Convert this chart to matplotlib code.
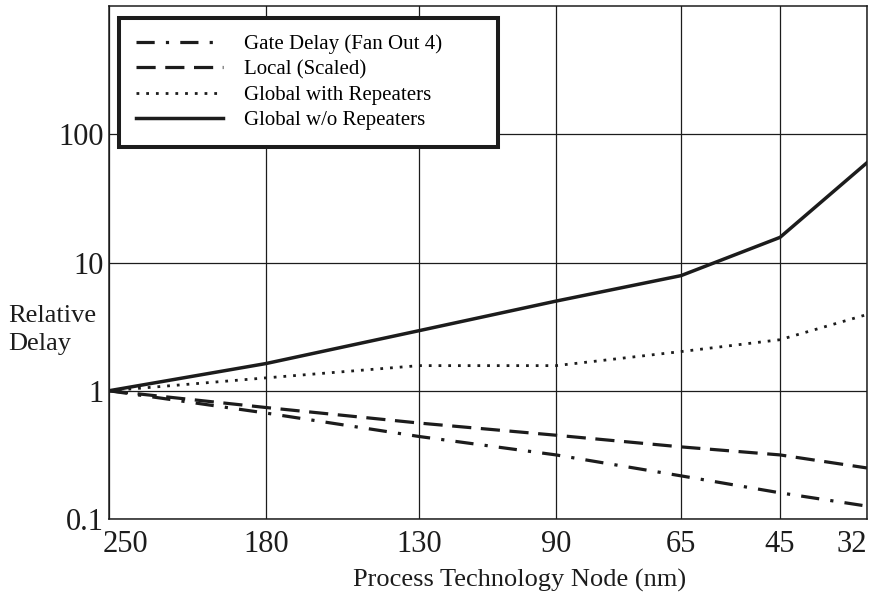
import matplotlib.pyplot as plt
import matplotlib.transforms as mtransforms

plt.rcParams['font.family'] = ['Liberation Serif', 'DejaVu Serif']

# process nodes and where they sit along the x axis (not evenly spaced in the original)
nodes = ['250', '180', '130', '90', '65', '45', '32']
node_pos = [0, 157, 310, 447, 572, 671, 758]

# relative delay (log scale)
gate_delay = [1.0, 0.67, 0.44, 0.316, 0.217, 0.16, 0.126]
local_scaled = [1.0, 0.74, 0.56, 0.45, 0.365, 0.316, 0.25]
global_rep = [1.0, 1.26, 1.57, 1.57, 2.02, 2.5, 3.93]
global_norep = [1.0, 1.63, 2.94, 5.0, 7.9, 15.7, 60.0]

ytick_vals = [0.1, 1, 10, 100]
ytick_labels = ['0.1', '1', '10', '100']

ink = '#1c1c1c'

fig = plt.figure(figsize=(8.77, 5.98), dpi=100)
ax = fig.add_axes([109 / 877, 1 - 519 / 598, 758 / 877, 513 / 598])

ax.plot(node_pos, gate_delay, color=ink, lw=2.3, linestyle=(0, (5.7, 3.5, 1, 3.5)),
        label='Gate Delay (Fan Out 4)')
ax.plot(node_pos, local_scaled, color=ink, lw=2.3, linestyle=(0, (6, 3)),
        label='Local (Scaled)')
ax.plot(node_pos, global_rep, color=ink, lw=2.0, linestyle=(0, (1, 2.5)),
        label='Global with Repeaters')
ax.plot(node_pos, global_norep, color=ink, lw=2.5, linestyle='-',
        label='Global w/o Repeaters')

ax.set_yscale('log')
ax.set_ylim(0.1, 1000)
ax.set_xlim(node_pos[0], node_pos[-1])

ax.set_yticks(ytick_vals)
ax.set_yticklabels(ytick_labels)
ax.minorticks_off()
ax.set_xticks(node_pos)
ax.set_xticklabels(nodes)
ax.tick_params(axis='both', length=0, labelsize=22, colors=ink)
ax.tick_params(axis='y', pad=4)
ax.tick_params(axis='x', pad=8)

# end labels are pulled inside the frame
xlabels = ax.get_xticklabels()
xlabels[0].set_horizontalalignment('left')
xlabels[0].set_transform(xlabels[0].get_transform() +
                         mtransforms.ScaledTranslation(-6 / 100, 0, fig.dpi_scale_trans))
xlabels[-1].set_horizontalalignment('right')

ax.grid(True, which='major', color=ink, lw=0.9)
ax.set_axisbelow(True)
for s in ax.spines.values():
    s.set_color(ink)
    s.set_linewidth(1.1)

# legend box stretched to the width it has in the original
leg_x0 = (119 - 109) / 758
leg_top = (519 - 18) / 513
leg_w = (498 - 119) / 758
leg = ax.legend(loc='upper left', bbox_to_anchor=(leg_x0, leg_top - 0.3, leg_w, 0.3),
                mode='expand', fontsize=15, handlelength=4.2, handletextpad=1.0,
                labelspacing=0.27, borderpad=0.8, borderaxespad=0, fancybox=False,
                framealpha=1, edgecolor=ink)
leg.get_frame().set_linewidth(2.9)

fig.text(520 / 877, 1 - 580 / 598, 'Process Technology Node (nm)', fontsize=19,
         ha='center', va='center', color=ink)
fig.text(8 / 877, 1 - 330 / 598, 'Relative\nDelay', fontsize=19, ha='left',
         va='center', color=ink, linespacing=1.3)

plt.savefig('out.png', dpi=100)
plt.close()
